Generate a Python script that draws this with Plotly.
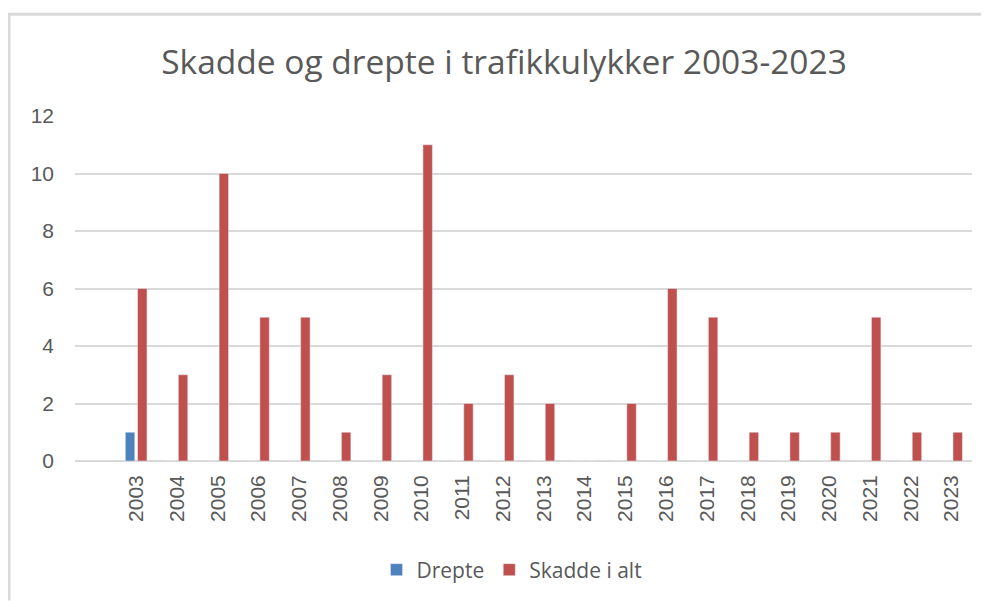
import plotly.graph_objects as go

years = [str(y) for y in range(2003, 2024)]
drepte = [1, 0, 0, 0, 0, 0, 0, 0, 0, 0, 0, 0, 0, 0, 0, 0, 0, 0, 0, 0, 0]
skadde = [6, 3, 10, 5, 5, 1, 3, 11, 2, 3, 2, 0, 2, 6, 5, 1, 1, 1, 5, 1, 1]
y_ticks = [0, 2, 4, 6, 8, 10, 12]

OFF = 8  # page body margin
W, H = 989 - OFF, 601 - OFF
ML, MT = 75 - OFF, 116 - OFF
PR, PB = 972 - OFF, 462 - OFF
MR, MB = W - PR, H - PB
PW, PH = PR - ML, PB - MT

def px_x(p):
    return (p - OFF - ML) / PW

def px_y(p):
    return (PB - (p - OFF)) / PH

grey = "#595959"
fig = go.Figure()
fig.add_trace(go.Bar(x=years, y=drepte, name="Drepte", marker_color="#4f81bd"))
fig.add_trace(go.Bar(x=years, y=skadde, name="Skadde i alt", marker_color="#c0504d"))

fig.update_layout(
    width=W, height=H,
    margin=dict(l=ML, r=MR, t=MT, b=MB, pad=0),
    paper_bgcolor="white", plot_bgcolor="white",
    barmode="group", bargap=0.4, bargroupgap=0.23,
    title=dict(text="Skadde og drepte i trafikkulykker 2003-2023",
               font=dict(family="Open Sans", size=33.5, color=grey),
               x=px_x(504), xref="paper", xanchor="center",
               y=1 - (62 - OFF) / H, yanchor="middle"),
    font=dict(family="Liberation Sans", color=grey),
    legend=dict(orientation="h", x=px_x(512), xanchor="center",
                y=px_y(570), yanchor="middle",
                font=dict(family="Open Sans", size=21, color=grey),
                itemwidth=30, traceorder="normal"),
    showlegend=True,
)
fig.update_xaxes(type="category", range=[-1.5, 20.5], tickangle=-90,
                 tickfont=dict(size=21, color=grey), showgrid=False,
                 showline=False, ticks="", ticklabelstandoff=9, fixedrange=True)
fig.update_yaxes(range=[0, 12], tickvals=y_ticks, showgrid=True,
                 gridcolor="#d9d9d9", gridwidth=2, zeroline=True,
                 zerolinecolor="#d9d9d9", zerolinewidth=2,
                 tickfont=dict(size=21, color=grey), ticks="",
                 ticklabelstandoff=20, fixedrange=True)

fig.add_shape(type="line", xref="paper", yref="paper",
              x0=px_x(7), x1=px_x(990), y0=px_y(14), y1=px_y(14),
              line=dict(color="#d9d9d9", width=3))
fig.add_shape(type="line", xref="paper", yref="paper",
              x0=px_x(9), x1=px_x(9), y0=px_y(14), y1=px_y(602),
              line=dict(color="#d9d9d9", width=3))

fig.write_html("out.html")
